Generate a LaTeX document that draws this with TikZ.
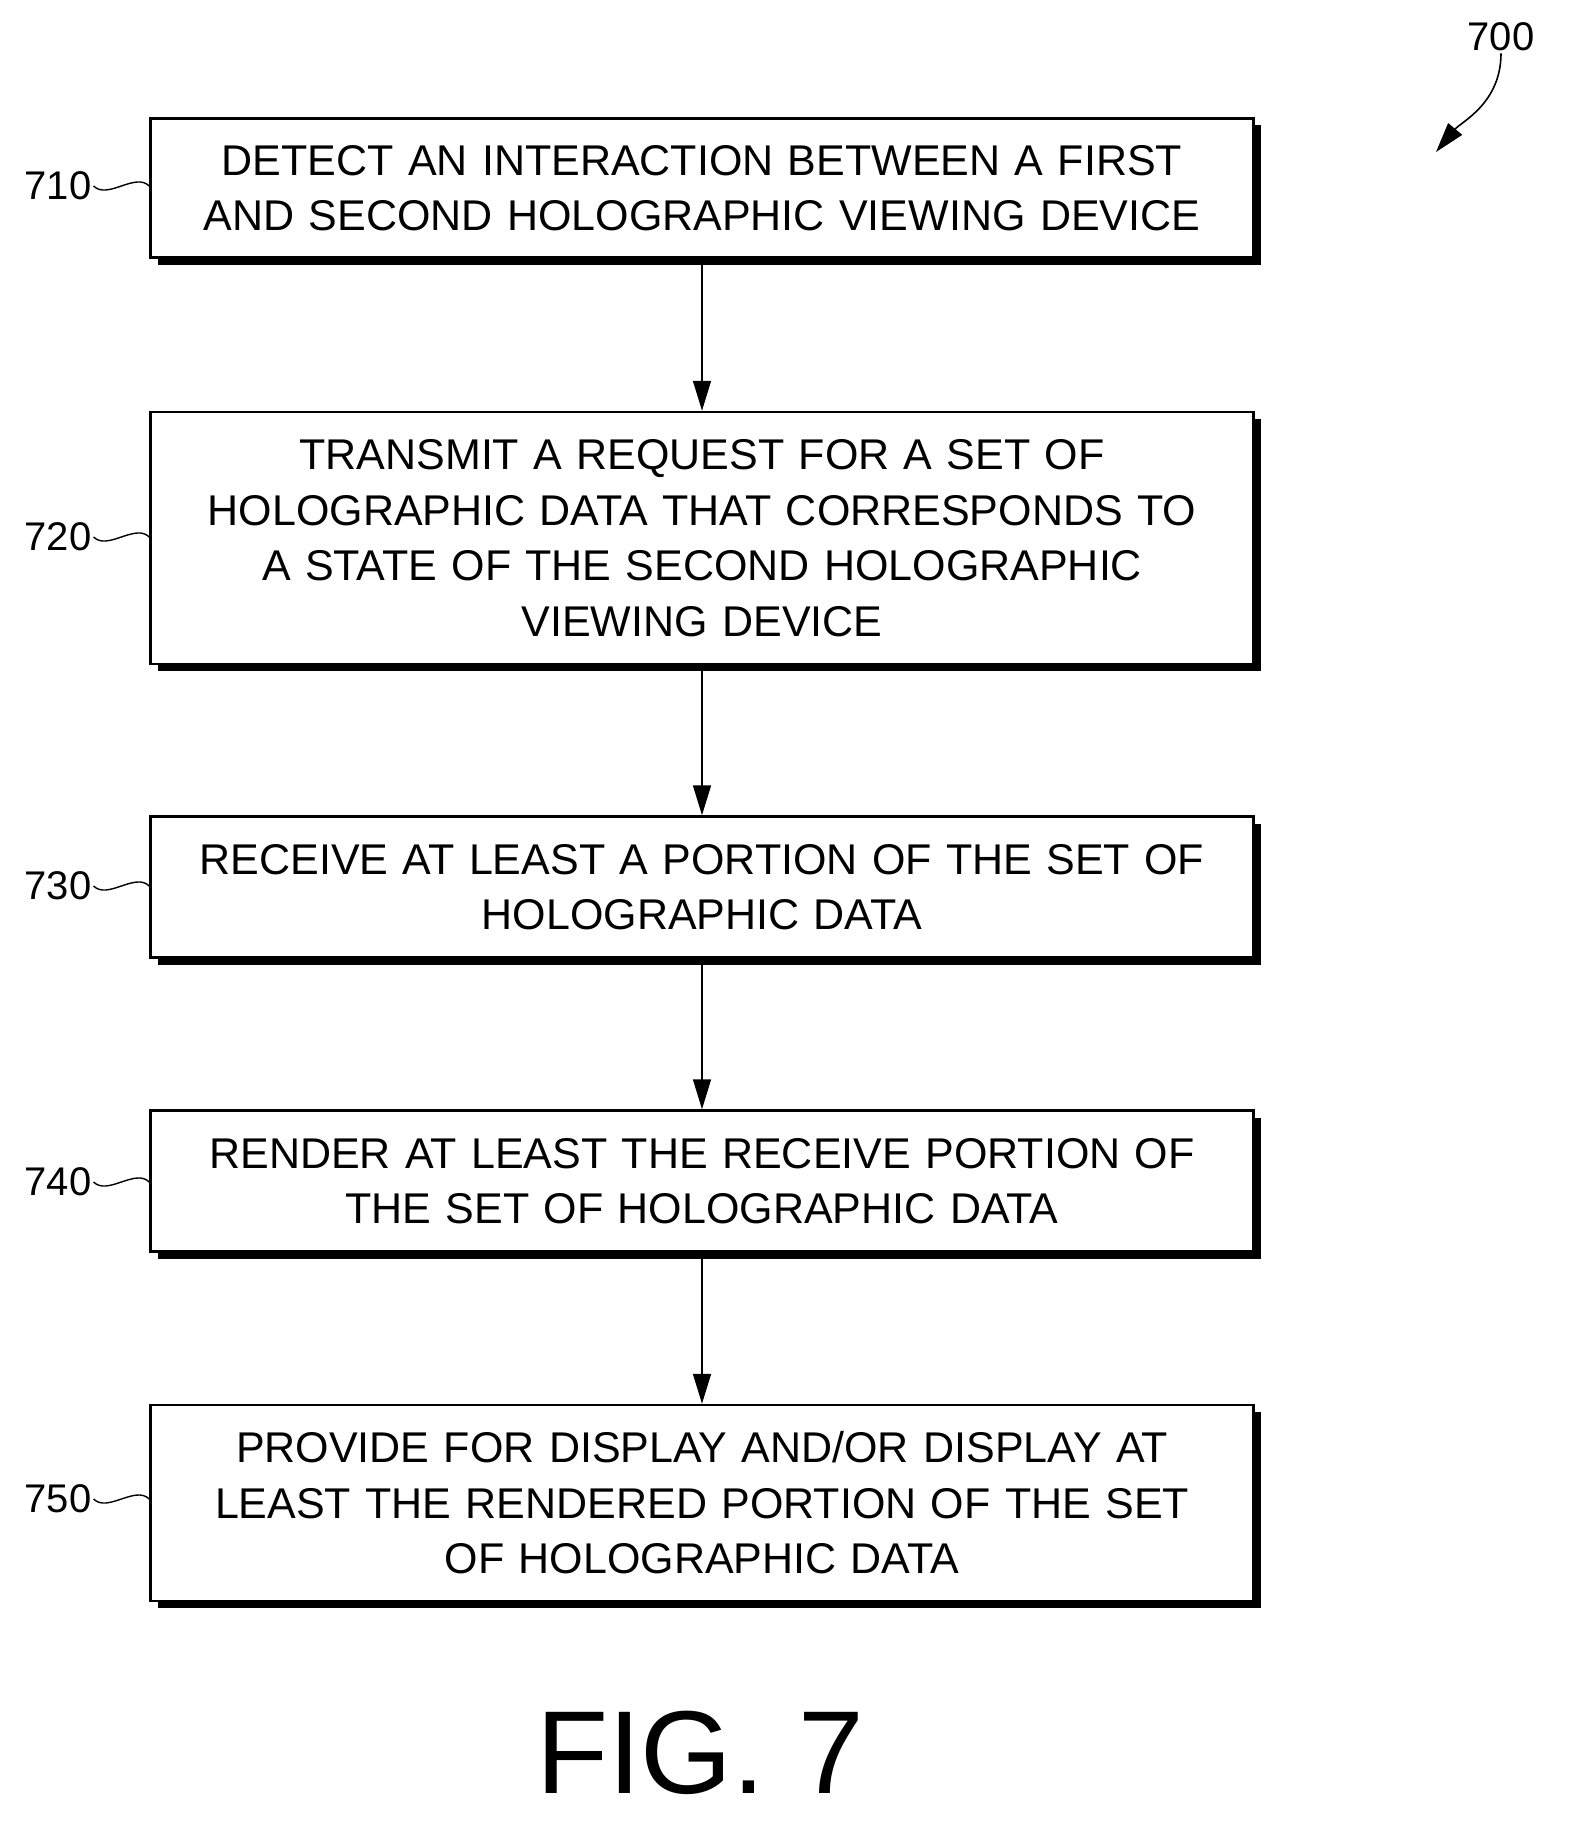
\documentclass[tikz,border=0pt]{standalone}
\usepackage{fontspec}
\setmainfont{Liberation Sans}
\usetikzlibrary{shadows,arrows.meta}
\tikzstyle{stepbox}=[draw, line width=2.5pt, fill=white, minimum width=1103pt,
text width=1090pt, align=center, inner sep=0pt,
font=\fontsize{43}{55.5}\selectfont,
drop shadow={shadow xshift=7pt, shadow yshift=-7pt, opacity=1, fill=black}]
\tikzstyle{ref}=[font=\fontsize{40}{48}\selectfont, inner sep=2pt]
\tikzstyle{link}=[line width=1.6pt, -{Triangle[length=30pt,width=18pt]}]
\tikzstyle{squig}=[line width=1.4pt]

\begin{document}
\begin{tikzpicture}[x=1pt,y=-1pt]
\useasboundingbox (0,0) rectangle (1574,1833);
\node[stepbox, minimum height=139pt](step1) at (702,188){DETECT AN INTERACTION BETWEEN A FIRST\\AND SECOND HOLOGRAPHIC VIEWING DEVICE};
\node[stepbox, minimum height=252pt](step2) at (702,538){TRANSMIT A REQUEST FOR A SET OF\\HOLOGRAPHIC DATA THAT CORRESPONDS TO\\A STATE OF THE SECOND HOLOGRAPHIC\\VIEWING DEVICE};
\node[stepbox, minimum height=141pt](step3) at (702,887){RECEIVE AT LEAST A PORTION OF THE SET OF\\HOLOGRAPHIC DATA};
\node[stepbox, minimum height=141pt](step4) at (702,1181){RENDER AT LEAST THE RECEIVE PORTION OF\\THE SET OF HOLOGRAPHIC DATA};
\node[stepbox, minimum height=196pt](step5) at (702,1503){PROVIDE FOR DISPLAY AND/OR DISPLAY AT\\LEAST THE RENDERED PORTION OF THE SET\\OF HOLOGRAPHIC DATA};

\node[ref](lbl1) at (58,186){710};
\node[ref](lbl2) at (58,537){720};
\node[ref](lbl3) at (58,886){730};
\node[ref](lbl4) at (58,1182){740};
\node[ref](lbl5) at (58,1499){750};

\draw[squig](lbl1.east) .. controls +(14,14) and +(-14,-14) .. (step1.west |- lbl1.east);
\draw[squig](lbl2.east) .. controls +(14,14) and +(-14,-14) .. (step2.west |- lbl2.east);
\draw[squig](lbl3.east) .. controls +(14,14) and +(-14,-14) .. (step3.west |- lbl3.east);
\draw[squig](lbl4.east) .. controls +(14,14) and +(-14,-14) .. (step4.west |- lbl4.east);
\draw[squig](lbl5.east) .. controls +(14,14) and +(-14,-14) .. (step5.west |- lbl5.east);

\draw[link](step1) -- (step2);
\draw[link](step2) -- (step3);
\draw[link](step3) -- (step4);
\draw[link](step4) -- (step5);

\node[ref](fig) at (1501,37){700};
\coordinate(figtip) at (1436,152);
\draw[link](fig.south) .. controls +(0,50) and +(25,-30) .. (figtip);

\node[font=\fontsize{118}{130}\selectfont](caption) at (700,1753){FIG. 7};
\end{tikzpicture}
\end{document}
